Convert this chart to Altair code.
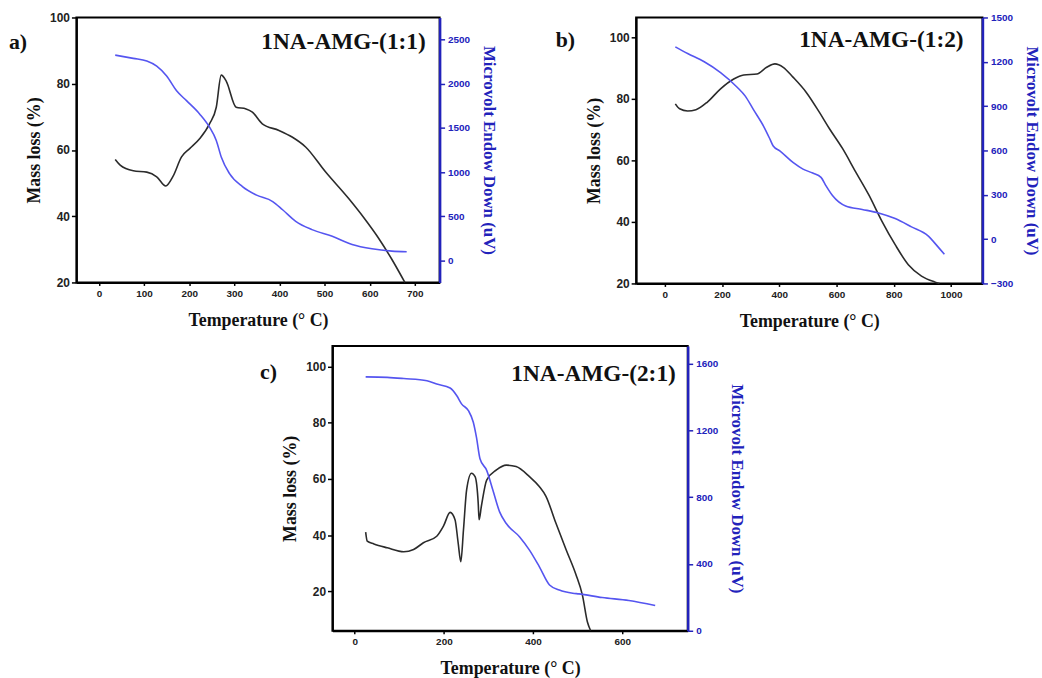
import altair as alt
import pandas as pd

# ---------------- data ----------------
# Panel a) 1NA-AMG-(1:1)
a_mass_T = [36, 47, 76, 106, 128, 148, 164, 183, 201, 223, 245, 260, 271, 282, 304, 326, 340, 362, 399, 428, 458, 502, 553, 590, 619, 649, 678]
a_mass = [57.1, 55.4, 53.7, 53.3, 51.9, 49.1, 52.0, 57.9, 60.4, 63.4, 67.9, 72.9, 82.6, 80.8, 72.9, 72.4, 71.4, 67.9, 65.9, 63.9, 60.9, 53.4, 45.4, 39.0, 33.5, 27.0, 20.0]
a_volt_T = [36, 76, 106, 128, 150, 172, 194, 223, 245, 260, 271, 289, 318, 348, 385, 407, 436, 472, 517, 561, 605, 649, 682]
a_volt = [2324, 2287, 2257, 2200, 2088, 1920, 1808, 1658, 1508, 1358, 1171, 984, 835, 741, 666, 573, 442, 348, 273, 180, 131, 105, 97]

# Panel b) 1NA-AMG-(1:2)
b_mass_T = [37, 52, 80, 109, 149, 195, 241, 276, 322, 356, 385, 414, 448, 494, 540, 575, 621, 667, 713, 759, 805, 851, 897, 943, 960]
b_mass = [78.4, 76.8, 76.1, 76.5, 79.0, 83.3, 86.5, 87.8, 88.1, 90.3, 91.4, 90.3, 87.1, 82.2, 75.7, 70.4, 63.9, 56.3, 48.8, 40.2, 32.6, 26.1, 22.4, 20.5, 20.0]
b_volt_T = [37, 80, 138, 195, 253, 282, 310, 345, 368, 379, 402, 448, 483, 517, 546, 563, 586, 632, 690, 747, 805, 862, 920, 954, 977]
b_volt = [1301, 1256, 1200, 1127, 1028, 966, 876, 765, 675, 630, 597, 519, 474, 447, 418, 362, 295, 224, 201, 177, 139, 83, 22, -51, -103]

# Panel c) 1NA-AMG-(2:1)
c_mass_T = [24.5, 28, 43, 73, 110, 132, 154, 184, 199, 214, 225, 232, 238, 244, 251, 262, 270, 277, 279, 284, 296, 318, 340, 362, 392, 414, 429, 451, 474, 496, 511, 522, 529]
c_mass = [41.1, 37.9, 36.9, 35.5, 34.1, 34.9, 37.3, 39.6, 43.2, 48.1, 45.5, 37.3, 30.6, 42.0, 56.1, 62.0, 60.8, 51.4, 45.5, 50.2, 59.6, 63.2, 64.9, 64.4, 60.8, 57.3, 53.8, 44.4, 34.9, 26.1, 18.5, 9.1, 6.1]
c_volt_T = [24.5, 73, 110, 162, 184, 214, 229, 240, 255, 266, 273, 281, 296, 310, 325, 340, 370, 392, 414, 437, 459, 489, 503, 555, 615, 674]
c_volt = [1520, 1517, 1510, 1497, 1477, 1453, 1407, 1357, 1318, 1248, 1159, 1030, 960, 841, 712, 642, 562, 483, 384, 274, 244, 225, 221, 199, 181, 151]

panel_letters = ["a)", "b)", "c)"]
sample_names = ["1NA-AMG-(1:1)", "1NA-AMG-(1:2)", "1NA-AMG-(2:1)"]
x_title = "Temperature (° C)"
y_left_title = "Mass loss (%)"
y_right_title = "Microvolt Endow Down (uV)"

BLACK = "#2b2b2b"
BLUE_LINE = "#5555f0"
BLUE_AXIS = "#2222bb"
SERIF = "Liberation Serif"
SANS = "Liberation Sans"


def panel(mT, m, vT, v, letter, name, w, h, xdom, xticks, ldom, lticks, rdom, rticks,
          letter_pos, name_pos):
    xenc = alt.X("T:Q", scale=alt.Scale(domain=xdom, nice=False, zero=False),
                 axis=alt.Axis(values=xticks, format="d", title=x_title, grid=False,
                               domainColor="black", domainWidth=2, tickColor="black", tickSize=3,
                               tickWidth=1.5, labelFont=SANS, labelFontWeight="bold",
                               labelFontSize=10, labelColor="#222", titleFont=SERIF,
                               titleFontWeight="bold", titleFontSize=18, titleColor="#111",
                               titlePadding=13, labelPadding=3))
    mass_df = pd.DataFrame({"T": mT, "m": m})
    volt_df = pd.DataFrame({"T": vT, "v": v})
    black = alt.Chart(mass_df).mark_line(color=BLACK, strokeWidth=1.6, interpolate="monotone").encode(
        x=xenc,
        y=alt.Y("m:Q", scale=alt.Scale(domain=ldom, nice=False, zero=False),
                axis=alt.Axis(values=lticks, format="d", title=y_left_title, grid=False,
                              domainColor="black", domainWidth=2, tickColor="black", tickSize=5,
                              tickWidth=1.5, labelFont=SANS, labelFontWeight="bold",
                              labelFontSize=12, labelColor="#222", titleFont=SERIF,
                              titleFontWeight="bold", titleFontSize=18, titleColor="#111",
                              titlePadding=6, labelPadding=2)),
    )
    blue = alt.Chart(volt_df).mark_line(color=BLUE_LINE, strokeWidth=1.6, interpolate="monotone").encode(
        x=xenc,
        y=alt.Y("v:Q", scale=alt.Scale(domain=rdom, nice=False, zero=False),
                axis=alt.Axis(orient="right", values=rticks, format="d", title=y_right_title,
                              grid=False, domainColor=BLUE_AXIS, domainWidth=2.5,
                              tickColor=BLUE_AXIS, tickSize=5, tickWidth=1.5, labelFont=SANS,
                              labelFontWeight="bold", labelFontSize=10, labelColor=BLUE_AXIS,
                              titleFont=SERIF, titleFontWeight="bold", titleFontSize=17,
                              titleColor=BLUE_AXIS, titleAngle=90, titlePadding=10,
                              labelPadding=3)),
    )
    lab = alt.Chart(pd.DataFrame({"t": [letter]})).mark_text(
        font=SERIF, fontWeight="bold", fontSize=22, align="left", baseline="alphabetic", color="#111"
    ).encode(text="t:N", x=alt.value(letter_pos[0]), y=alt.value(letter_pos[1]))
    nm = alt.Chart(pd.DataFrame({"t": [name]})).mark_text(
        font=SERIF, fontWeight="bold", fontSize=23.5, align="right", baseline="alphabetic", color="#111"
    ).encode(text="t:N", x=alt.value(name_pos[0]), y=alt.value(name_pos[1]))
    return alt.layer(black, blue, nm, lab).resolve_scale(y="independent").properties(width=w, height=h)


pa = panel(a_mass_T, a_mass, a_volt_T, a_volt, panel_letters[0], sample_names[0], 366, 267,
           [-50, 755], [0, 100, 200, 300, 400, 500, 600, 700], [20, 100], [20, 40, 60, 80, 100],
           [-250, 2750], [0, 500, 1000, 1500, 2000, 2500], (-68, 32), (352, 32))
pb = panel(b_mass_T, b_mass, b_volt_T, b_volt, panel_letters[1], sample_names[1], 349, 268,
           [-100, 1110], [0, 200, 400, 600, 800, 1000], [20, 106.5], [20, 40, 60, 80, 100],
           [-300, 1500], [-300, 0, 300, 600, 900, 1200, 1500], (-81, 30), (330, 30))
pc = panel(c_mass_T, c_mass, c_volt_T, c_volt, panel_letters[2], sample_names[2], 358, 287,
           [-50, 747], [0, 200, 400, 600], [6, 107.3], [20, 40, 60, 80, 100],
           [0, 1705], [0, 400, 800, 1200, 1600], (-73, 33), (346, 35))

spacer = alt.Chart(pd.DataFrame({"s": [0]})).mark_point(opacity=0).encode(
    x=alt.value(0), y=alt.value(0)
).properties(width=183, height=1, view=alt.ViewBackground(stroke="transparent"))

top = alt.hconcat(pa, pb, spacing=56)
bottom = alt.hconcat(spacer, pc, spacing=0)
chart = alt.vconcat(top, bottom, spacing=11).properties(
    padding={"left": 8, "top": 8, "right": 0, "bottom": 0}, background="white"
).configure_view(stroke="black", strokeWidth=2)

chart.save("out.html", embed_options={"renderer": "svg", "actions": False})
